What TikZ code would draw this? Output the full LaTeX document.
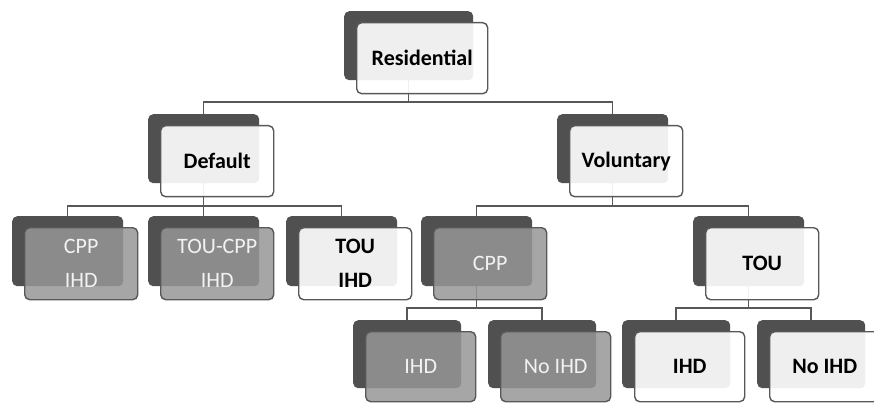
\documentclass[tikz,border=0pt]{standalone}
\usepackage{fontspec}
\setmainfont{Carlito}
\usetikzlibrary{calc}
\definecolor{darkbox}{RGB}{80,80,80}
\definecolor{edgegray}{RGB}{88,88,88}
\definecolor{frontgray}{RGB}{150,150,150}
\definecolor{txtlight}{RGB}{242,242,242}
\tikzset{
  backbox/.style={fill=darkbox, draw=none, rounded corners=5pt, inner sep=0pt, anchor=north west},
  whitefront/.style={fill=white, fill opacity=0.91, text opacity=1, draw=edgegray, line width=1.4pt,
     rounded corners=5pt, inner sep=0pt, anchor=north west, align=center,
     font=\fontsize{22}{34}\selectfont\bfseries, text=black},
  grayfront/.style={fill=frontgray, fill opacity=0.85, text opacity=1, draw=edgegray, line width=1.4pt,
     rounded corners=5pt, inner sep=0pt, anchor=north west, align=center,
     font=\fontsize{22}{34}\selectfont, text=txtlight},
  conn/.style={draw=edgegray, line width=1.5pt},
  refbox/.style={inner sep=0pt, anchor=north west}
}
% name, x, y, w, h, front style, text
\newcommand\hnode[7]{%
  \node[backbox, minimum width=#4pt, minimum height=#5pt] (#1) at (#2,#3) {};
  \node[#6, minimum width=#4pt+2pt, minimum height=#5pt+2pt] (#1f) at ($(#1.north west)+(12,11)$) {#7};
}
\begin{document}
\begin{tikzpicture}[x=1pt,y=-1pt]
\useasboundingbox (0,0) rectangle (874,403);
\coordinate (bus1) at (0,102);
\coordinate (bus2) at (0,206);
\coordinate (bus3) at (0,308);
% invisible reference nodes for connector routing
\path (344,11) node[refbox, minimum width=129pt, minimum height=69pt] (res) {};
\path (148,114) node[refbox, minimum width=111pt, minimum height=69pt] (def) {};
\path (557,114) node[refbox, minimum width=111pt, minimum height=69pt] (vol) {};
\path (12,216) node[refbox, minimum width=111pt, minimum height=70pt] (cppihd) {};
\path (148,216) node[refbox, minimum width=111pt, minimum height=70pt] (toucpp) {};
\path (286,216) node[refbox, minimum width=111pt, minimum height=70pt] (touihd) {};
\path (421,216) node[refbox, minimum width=111pt, minimum height=70pt] (cpp) {};
\path (693,216) node[refbox, minimum width=111pt, minimum height=70pt] (tou) {};
\path (353,320) node[refbox, minimum width=108pt, minimum height=68pt] (ihda) {};
\path (488,320) node[refbox, minimum width=108pt, minimum height=68pt] (noihda) {};
\path (622,320) node[refbox, minimum width=108pt, minimum height=68pt] (ihdb) {};
\path (757,320) node[refbox, minimum width=108pt, minimum height=68pt] (noihdb) {};
% connectors
\draw[conn] (res.south) -- (res.south |- bus1) -| (def.north);
\draw[conn] (res.south |- bus1) -| (vol.north);
\draw[conn] (def.south) -- (def.south |- bus2) -| (cppihd.north);
\draw[conn] (def.south |- bus2) -| (touihd.north);
\draw[conn] (def.south |- bus2) -- (toucpp.north);
\draw[conn] (vol.south) -- (vol.south |- bus2) -| (cpp.north);
\draw[conn] (vol.south |- bus2) -| (tou.north);
\draw[conn] (cpp.south) -- (cpp.south |- bus3) -| (ihda.north);
\draw[conn] (cpp.south |- bus3) -| (noihda.north);
\draw[conn] (tou.south) -- (tou.south |- bus3) -| (ihdb.north);
\draw[conn] (tou.south |- bus3) -| (noihdb.north);
% boxes
\hnode{resb}{344}{11}{129}{69}{whitefront}{Residential}
\hnode{defb}{148}{114}{111}{69}{whitefront}{Default}
\hnode{volb}{557}{114}{111}{69}{whitefront}{Voluntary}
\hnode{cppihdb}{12}{216}{111}{70}{grayfront}{CPP\\IHD}
\hnode{toucppb}{148}{216}{111}{70}{grayfront}{TOU-CPP\\IHD}
\hnode{touihdb}{286}{216}{111}{70}{whitefront}{TOU\\IHD}
\hnode{cppb}{421}{216}{111}{70}{grayfront}{CPP}
\hnode{toub}{693}{216}{111}{70}{whitefront}{TOU}
\hnode{ihdab}{353}{320}{108}{68}{grayfront}{IHD}
\hnode{noihdab}{488}{320}{108}{68}{grayfront}{No IHD}
\hnode{ihdbb}{622}{320}{108}{68}{whitefront}{IHD}
\hnode{noihdbb}{757}{320}{108}{68}{whitefront}{No IHD}
\end{tikzpicture}
\end{document}
